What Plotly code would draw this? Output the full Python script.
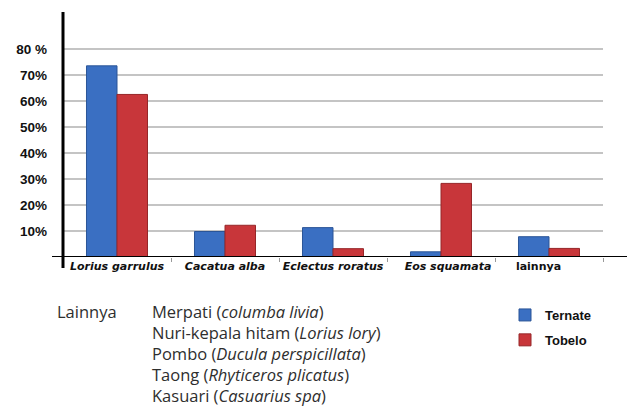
import plotly.graph_objects as go

# Bird species recorded, share of respondents (%) per location
species = ["Lorius garrulus", "Cacatua alba", "Eclectus roratus", "Eos squamata", "lainnya"]
species_labels = [
    "<b><i>Lorius garrulus</i></b>",
    "<b><i>Cacatua alba</i></b>",
    "<b><i>Eclectus roratus</i></b>",
    "&nbsp;&nbsp;&nbsp;&nbsp;<b><i>Eos squamata</i></b>",
    "<b>lainnya</b>&nbsp;&nbsp;&nbsp;&nbsp;&nbsp;&nbsp;",
]
ternate = [73.5, 9.8, 11.3, 2.0, 7.8]
tobelo = [62.5, 12.2, 3.2, 28.3, 3.3]

y_tickvals = [10, 20, 30, 40, 50, 60, 70, 80]
y_ticktext = ["10%", "20%", "30%", "40%", "50%", "60%", "70%", "80 %"]

# Species grouped under "lainnya" (common name, scientific name)
other_species = [
    ("Merpati", "columba livia"),
    ("Nuri-kepala hitam", "Lorius lory"),
    ("Pombo", "Ducula perspicillata"),
    ("Taong", "Rhyticeros plicatus"),
    ("Kasuari", "Casuarius spa"),
]

BLUE, BLUE_EDGE = "#3a6fc2", "#2b5597"
RED, RED_EDGE = "#c8363a", "#962628"

fig = go.Figure()
fig.add_trace(go.Bar(
    x=species, y=ternate, name="Ternate", legendgroup="a",
    marker=dict(color=BLUE, line=dict(color=BLUE_EDGE, width=1)),
))
fig.add_trace(go.Bar(
    x=species, y=tobelo, name="Tobelo", legendgroup="b",
    marker=dict(color=RED, line=dict(color=RED_EDGE, width=1)),
))

W, H = 627, 412
L, R, T, B = 63, 24, 12, 155
plot_h = H - T - B

def py(px):
    """pixel row -> paper y"""
    return (H - B - px) / plot_h

def pxx(px):
    """pixel column -> paper x"""
    return (px - L) / (W - L - R)

annotations = []
text_font = dict(family="Open Sans, Noto Sans, sans-serif", size=16.5, color="#2e2e2e")
rows = [311, 332, 353, 374, 395]
annotations.append(dict(
    text="Lainnya", x=pxx(55), y=py(rows[0]), xref="paper", yref="paper",
    xanchor="left", yanchor="middle", showarrow=False, font=text_font,
))
for (common, latin), row in zip(other_species, rows):
    annotations.append(dict(
        text=f"{common} (<i>{latin}</i>)", x=pxx(150), y=py(row),
        xref="paper", yref="paper", xanchor="left", yanchor="middle",
        showarrow=False, font=text_font,
    ))

shapes = [
    # x axis line, running past the plot on both sides
    dict(type="line", xref="paper", yref="y", x0=pxx(52), x1=pxx(627), y0=0, y1=0,
         line=dict(color="black", width=2)),
    # y axis line, crossing below the baseline
    dict(type="line", xref="paper", yref="paper", x0=0, x1=0, y0=py(268), y1=1,
         line=dict(color="black", width=3)),
]

bold_arial = dict(family="Liberation Sans, Arial, sans-serif", size=13.5,
                  color="#111111", weight="bold")

fig.update_layout(
    width=W, height=H,
    margin=dict(l=L, r=R, t=T, b=B, pad=0, autoexpand=False),
    paper_bgcolor="white", plot_bgcolor="white",
    barmode="group", bargap=0.435, bargroupgap=0,
    showlegend=True,
    legend=dict(
        x=pxx(505), y=py(300), xanchor="left", yanchor="top",
        traceorder="grouped", tracegroupgap=5, itemwidth=30,
        font=dict(family="Liberation Sans, Arial, sans-serif", size=13,
                  color="#111111", weight="bold"),
        bgcolor="rgba(0,0,0,0)",
    ),
    xaxis=dict(
        type="category", range=[-0.5, 4.5],
        tickmode="array", tickvals=species, ticktext=species_labels,
        tickangle=0, automargin=False,
        tickson="boundaries", ticks="outside", ticklen=4, tickwidth=1, tickcolor="#999999",
        showgrid=False, showline=False, zeroline=False,
        tickfont=dict(family="DejaVu Sans, Verdana, sans-serif", size=11, color="#111111"),
        ticklabelstandoff=1,
    ),
    yaxis=dict(
        range=[0, 94.2], tickmode="array", tickvals=y_tickvals, ticktext=y_ticktext,
        showgrid=True, gridcolor="#c4c4c4", gridwidth=1.5,
        showline=False, zeroline=False, ticks="", automargin=False,
        tickfont=bold_arial,
        ticklabelstandoff=15,
    ),
    annotations=annotations,
    shapes=shapes,
)

fig.write_html("out.html")
